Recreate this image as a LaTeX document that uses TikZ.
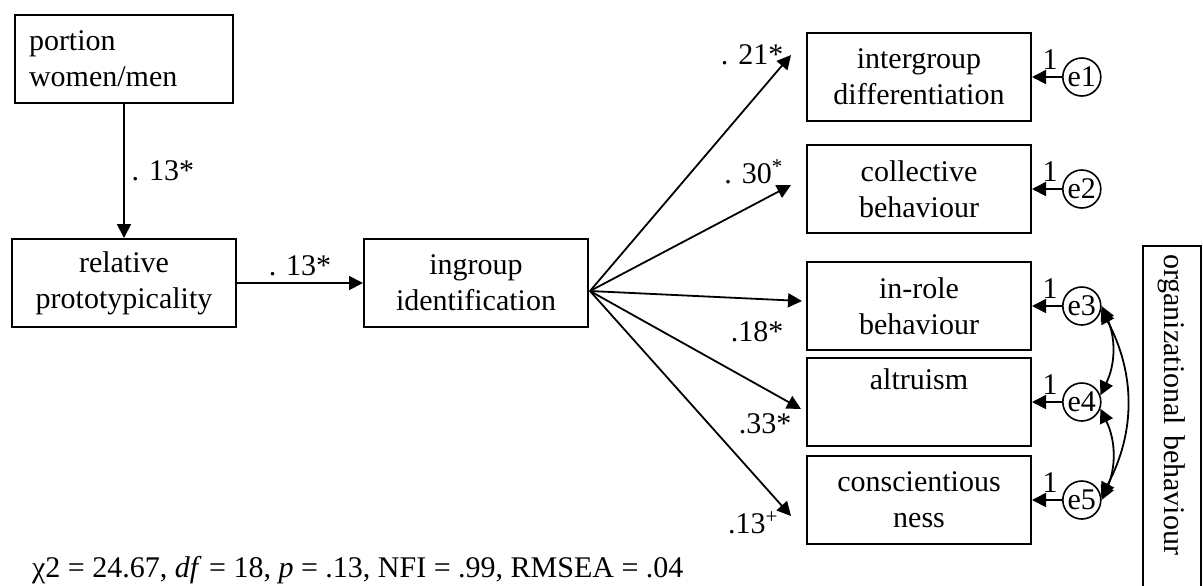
\documentclass[tikz,border=0pt]{standalone}
\usepackage{fontspec}
\setmainfont{Liberation Serif}
\usetikzlibrary{arrows.meta,positioning}
\tikzset{
  box/.style={draw,line width=1pt,minimum width=112pt,minimum height=44pt,align=center,inner sep=3pt},
  lbox/.style={box,minimum width=109pt,text width=95pt,align=left,inner xsep=7pt},
  err/.style={draw,circle,line width=0.8pt,minimum size=19pt,inner sep=0pt},
  ar/.style={-{Triangle[length=7pt,width=7pt]},line width=0.9pt},
  dar/.style={{Triangle[length=7pt,width=7pt]}-{Triangle[length=7pt,width=7pt]},line width=0.9pt},
}
\begin{document}
\begin{tikzpicture}[x=0.5pt,y=-0.5pt,font=\fontsize{15}{18}\selectfont]
  \useasboundingbox (0,0) rectangle (1203,585);
  % left chain
  \node[lbox] (pw) at (124,59) {portion\\women/men};
  \node[box, below=67pt of pw] (rp) {relative\\prototypicality};
  \node[box, right=63pt of rp] (ig) {ingroup\\identification};
  \draw[ar] (pw) -- node[right]{. 13*} (rp);
  \draw[ar] (rp) -- node[above]{. 13*} (ig);
  % outcomes
  \node[box] (id) at (919,77) {intergroup\\differentiation};
  \node[box, below=11pt of id] (cb) {collective\\behaviour};
  \node[box, below=13.5pt of cb] (ir) {in-role\\behaviour};
  \node[box, below=3pt of ir] (al) {altruism\\\strut};
  \node[box, below=4pt of al] (cn) {conscientious\\ness};
  \coordinate (o) at ([shift={(1,8)}]ig.east);
  \draw[ar] (o) -- ([shift={(-15,-22)}]id.west) node[anchor=east] {. 21*};
  \draw[ar] (o) -- ([shift={(-15,-4)}]cb.west) node[anchor=east, yshift=6.5pt] {. 30\textsuperscript{*}};
  \draw[ar] (o) -- ([shift={(-4,-5)}]ir.west) node[anchor=east, xshift=-5.5pt, yshift=-15.5pt] {.18*};
  \draw[ar] (o) -- ([shift={(-5,7)}]al.west) node[anchor=east, xshift=-1pt, yshift=-7.5pt] {.33*};
  \draw[ar] (o) -- ([shift={(-15,16)}]cn.west) node[anchor=east, xshift=-2.5pt, yshift=-3.5pt] {.13\textsuperscript{+}};
  % residuals
  \node[err, right=15pt of id] (e1) {e1};
  \node[err, right=15pt of cb] (e2) {e2};
  \node[err, right=15pt of ir] (e3) {e3};
  \node[err, right=15pt of al] (e4) {e4};
  \node[err, right=15pt of cn] (e5) {e5};
  \foreach \e/\b in {e1/id,e2/cb,e3/ir,e4/al,e5/cn}
    \draw[ar] (\e.west) -- node[above,pos=0.4]{1} (\e.west -| \b.east);
  \draw[dar] (e3.east) to[bend left=25] (e4.20);
  \draw[dar] (e4.-20) to[bend left=25] (e5.east);
  \draw[dar] (e3.-10) to[bend left=28] (e5.10);
  \node[draw, line width=1pt, rotate=-90, minimum height=29pt, text width=165pt, inner xsep=4pt, align=left] (ob) at (1172,419) {organizational behaviour};
  \node[anchor=west] (stats) at (25,570) {χ2 = 24.67, \textit{df} = 18, \textit{p} = .13, NFI = .99, RMSEA = .04};
\end{tikzpicture}
\end{document}
